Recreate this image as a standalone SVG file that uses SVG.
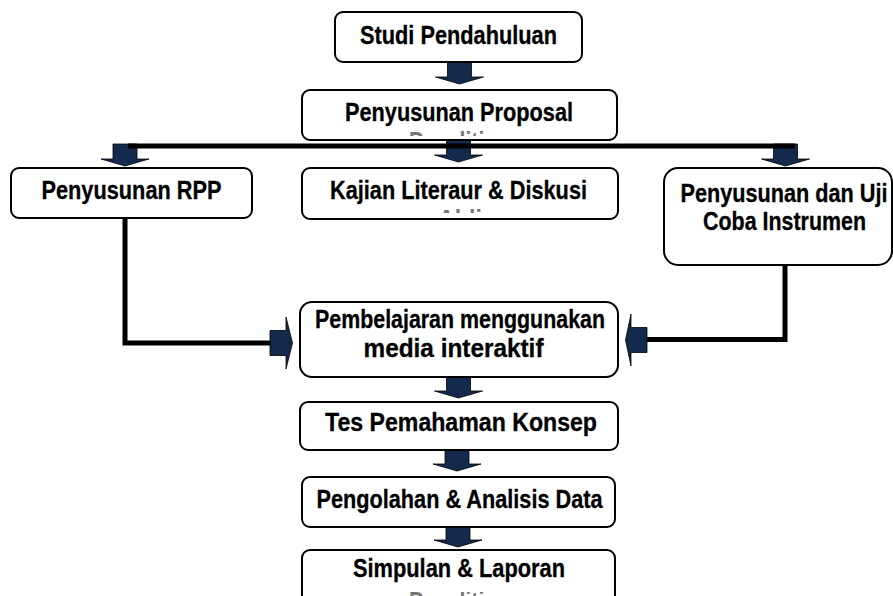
<svg xmlns="http://www.w3.org/2000/svg" width="893" height="596" viewBox="0 0 893 596">
<style>
.box{fill:#fff;stroke:#000;stroke-width:2}
.t{font-family:"Liberation Sans",Arial,sans-serif;font-weight:bold;font-size:25px;text-anchor:middle;fill:#000;stroke:#000;stroke-width:0.3}
.faint{fill:#777;stroke:none}
.ln{fill:none;stroke:#000;stroke-width:5;stroke-linejoin:miter}
.arr{fill:#132a4c;stroke:#000;stroke-width:0.8}
</style>
<defs>
<path id="down" d="M-12,0 H12 V15 H24 L0,22 L-24,15 H-12 Z"/>
<clipPath id="c1"><rect x="300" y="128" width="320" height="8"/></clipPath>
<clipPath id="c2"><rect x="300" y="205" width="320" height="8"/></clipPath>
<clipPath id="c3"><rect x="300" y="592" width="320" height="4"/></clipPath>
</defs>

<g id="connectors">
<use href="#down" class="arr" x="459.5" y="62"/>
<use href="#down" class="arr" x="458.5" y="140"/>
<use href="#down" class="arr" x="125" y="144"/>
<use href="#down" class="arr" x="785.5" y="144"/>
<line class="ln" x1="128" y1="146" x2="795" y2="146"/>
<polyline class="ln" points="125,218 125,343 271,343"/>
<path class="arr" d="M270,330.5 H286 V317 L292.5,343 L286,369 V355.5 H270 Z"/>
<polyline class="ln" points="785,265 785,339.5 645,339.5"/>
<path class="arr" d="M647,327.5 H631 V314 L625.5,340 L631,366 V352.5 H647 Z"/>
<use href="#down" class="arr" x="458.5" y="376"/>
<use href="#down" class="arr" x="457" y="449"/>
<use href="#down" class="arr" x="458" y="525"/>
</g>

<g id="studi">
<rect class="box" x="335" y="12" width="247" height="50" rx="8"/>
<text class="t" x="458.5" y="43.5" textLength="197" lengthAdjust="spacingAndGlyphs">Studi Pendahuluan</text>
</g>

<g id="proposal">
<rect class="box" x="302" y="90" width="315" height="50" rx="8"/>
<text class="t" x="459" y="121" textLength="228" lengthAdjust="spacingAndGlyphs">Penyusunan Proposal</text>
<text class="t faint" x="459" y="150" clip-path="url(#c1)" textLength="100" lengthAdjust="spacingAndGlyphs">Penelitian</text>
</g>

<g id="rpp">
<rect class="box" x="11" y="168" width="241" height="50" rx="8"/>
<text class="t" x="131.5" y="199" textLength="180" lengthAdjust="spacingAndGlyphs">Penyusunan RPP</text>
</g>

<g id="kajian">
<rect class="box" x="302" y="168" width="316" height="51" rx="8"/>
<text class="t" x="458.5" y="199" textLength="257" lengthAdjust="spacingAndGlyphs">Kajian Literaur &amp; Diskusi</text>
<text class="t faint" x="460" y="228" clip-path="url(#c2)" textLength="44" lengthAdjust="spacingAndGlyphs">Ahli</text>
</g>

<g id="instrumen">
<rect class="box" x="664" y="168" width="228" height="97" rx="14"/>
<text class="t" x="784" y="202" textLength="207" lengthAdjust="spacingAndGlyphs">Penyusunan dan Uji</text>
<text class="t" x="784.5" y="229.5" textLength="163" lengthAdjust="spacingAndGlyphs">Coba Instrumen</text>
</g>

<g id="pembelajaran">
<rect class="box" x="300" y="302" width="318" height="75" rx="12"/>
<text class="t" x="460" y="327.5" textLength="290" lengthAdjust="spacingAndGlyphs">Pembelajaran menggunakan</text>
<text class="t" x="453.5" y="357" textLength="180" lengthAdjust="spacingAndGlyphs">media interaktif</text>
</g>

<g id="tes">
<rect class="box" x="300" y="402" width="318" height="48" rx="8"/>
<text class="t" x="461" y="431" textLength="272" lengthAdjust="spacingAndGlyphs">Tes Pemahaman Konsep</text>
</g>

<g id="pengolahan">
<rect class="box" x="302" y="477" width="313" height="50" rx="8"/>
<text class="t" x="459.5" y="507.5" textLength="286" lengthAdjust="spacingAndGlyphs">Pengolahan &amp; Analisis Data</text>
</g>

<g id="simpulan">
<rect class="box" x="302" y="550" width="313" height="60" rx="8"/>
<text class="t" x="459" y="577" textLength="212" lengthAdjust="spacingAndGlyphs">Simpulan &amp; Laporan</text>
<text class="t faint" x="459" y="610" clip-path="url(#c3)" textLength="100" lengthAdjust="spacingAndGlyphs">Penelitian</text>
</g>
</svg>
